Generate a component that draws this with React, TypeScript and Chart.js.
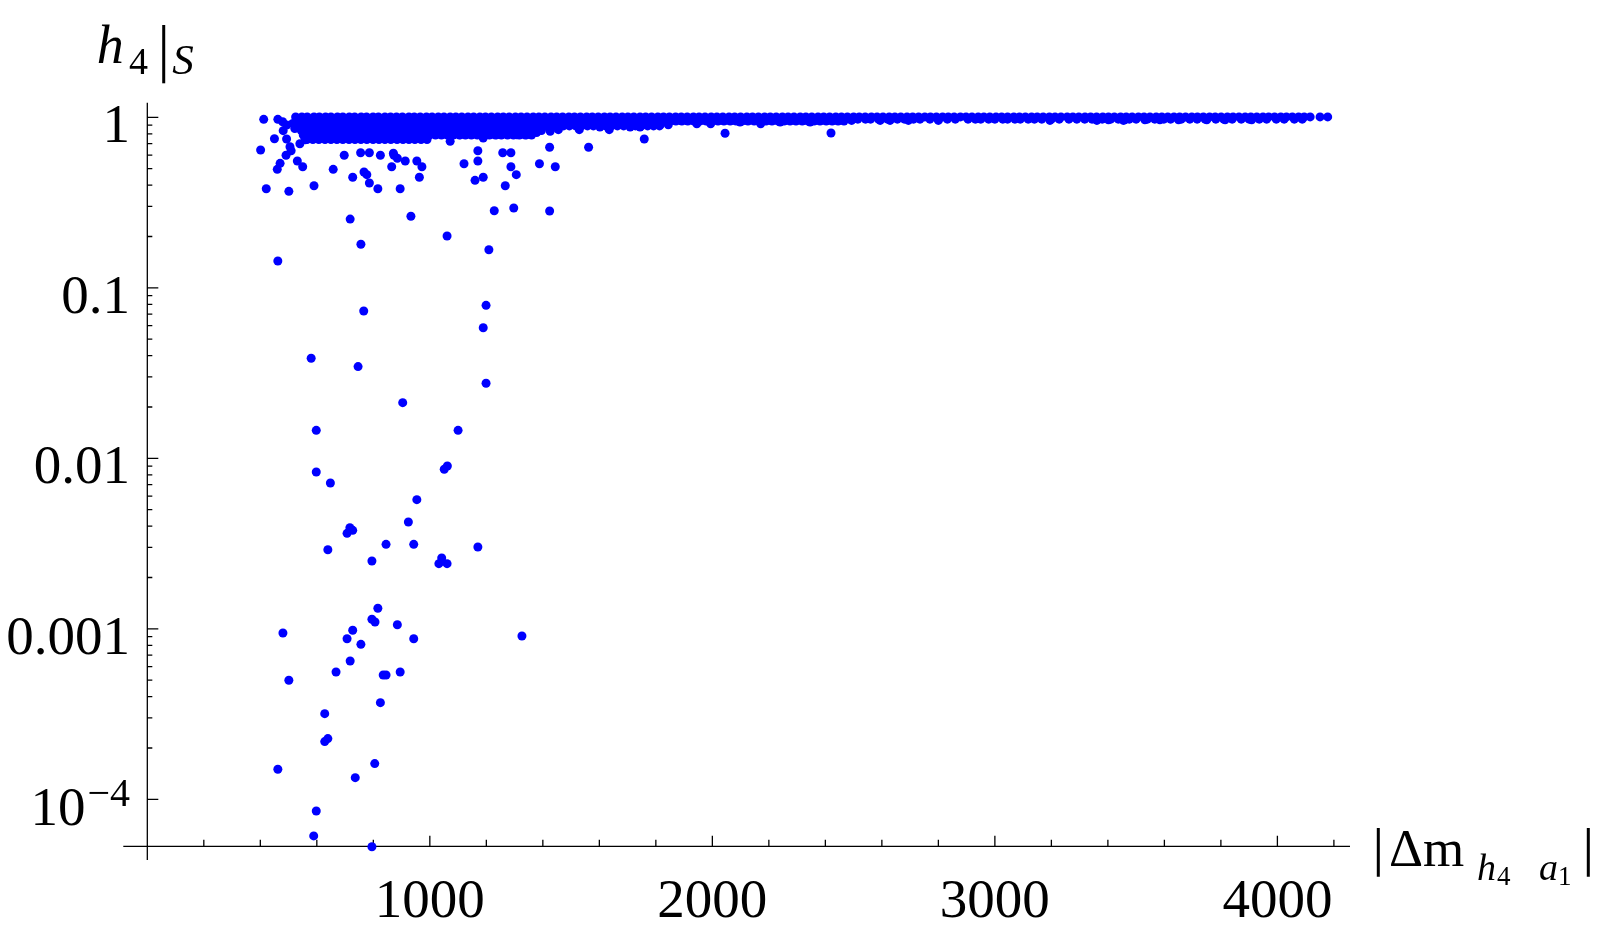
import React, { useEffect, useRef } from "react";
import { Chart, registerables } from "chart.js";

Chart.register(...registerables);

// ---- axes ----
const X_MIN = -85;
const X_MAX = 4257;
const Y_MIN = 4.406e-5;
const Y_MAX = 1.218;
const X_AXIS_AT = 5.3e-5;
const X_MAJOR_TICKS = [1000, 2000, 3000, 4000];
const X_TICK_LABELS = ["1000", "2000", "3000", "4000"];
const X_MINOR_TICKS = [200, 400, 600, 800, 1200, 1400, 1600, 1800, 2200, 2400, 2600, 2800, 3200, 3400, 3600, 3800, 4200];
const Y_MAJOR_TICKS = [1, 0.1, 0.01, 0.001, 0.0001];
const Y_TICK_LABELS = ["1", "0.1", "0.01", "0.001", "10^-4"];
const Y_MINOR_MANTISSA = [2, 3, 4, 5, 6, 7, 8, 9];
const Y_MINOR_DECADES = [1e-4, 1e-3, 1e-2, 1e-1];

// ---- scattered points ----
const upperX = [401, 412, 462, 450, 479, 493, 481, 493, 505, 491, 509, 470, 460, 531, 550, 421, 501, 590, 658, 697, 755, 786, 825, 727, 767, 777, 786, 816, 865, 873, 885, 913, 954, 972, 963, 895, 718, 933, 756, 462, 1061, 1121, 1170, 1170, 1160, 1189, 1258, 1287, 1287, 1306, 1267, 1228, 1297, 1209, 1388, 1444, 1424, 1562, 1759, 2045, 1424, 2420, 1072, 871, 515, 522, 540];
const upperY = [0.643, 0.973, 0.973, 0.748, 0.942, 0.901, 0.835, 0.746, 0.672, 0.599, 0.637, 0.537, 0.495, 0.554, 0.513, 0.381, 0.368, 0.397, 0.495, 0.599, 0.62, 0.62, 0.599, 0.445, 0.478, 0.461, 0.412, 0.381, 0.513, 0.599, 0.575, 0.554, 0.554, 0.513, 0.445, 0.381, 0.253, 0.263, 0.18, 0.1437, 0.2012, 0.534, 0.554, 0.637, 0.427, 0.445, 0.62, 0.62, 0.513, 0.461, 0.397, 0.2833, 0.294, 0.1673, 0.534, 0.513, 0.667, 0.667, 0.746, 0.806, 0.282, 0.809, 0.723, 0.615, 0.92, 0.86, 0.70];
const midX = [766, 1199, 1189, 580, 746, 1199, 904, 598, 1100, 1062, 1051, 598, 648, 954, 924, 717, 727, 707, 639, 845, 943, 1170, 795, 1042, 1032, 1061];
const midY = [0.0731, 0.0789, 0.0583, 0.0386, 0.0345, 0.02754, 0.0212, 0.01459, 0.01459, 0.00902, 0.00862, 0.00831, 0.00716, 0.00572, 0.00423, 0.00392, 0.00378, 0.00363, 0.00291, 0.00313, 0.00313, 0.00302, 0.0025, 0.0026, 0.00241, 0.00241];
const lowX = [816, 795, 806, 885, 727, 480, 707, 943, 756, 1326, 718, 668, 501, 835, 845, 895, 825, 628, 628, 639, 462, 805, 736, 598, 589, 795];
const lowY = [0.001319, 0.001137, 0.001096, 0.001057, 0.00098, 0.000945, 0.000875, 0.000875, 0.000811, 0.000908, 0.000647, 0.000558, 0.000499, 0.000536, 0.000536, 0.000558, 0.000369, 0.000318, 0.000218, 0.000227, 0.00015, 0.000162, 0.000134, 0.0000854, 0.000061, 0.0000527];

const bumpX = [559, 1107, 1189, 1237, 1308, 1343, 1378, 1426, 1455, 1529, 1602, 1635, 1709, 1744, 1815, 1844, 1945, 1994, 2098, 2171, 2240, 2346, 2393, 2493, 2594, 2629, 2694, 2800, 3195, 3361, 3455, 3402, 3460, 3531, 3584, 3650, 3750, 3815, 3909];
const bumpY = [0.739, 0.79, 0.756, 0.79, 0.79, 0.79, 0.815, 0.827, 0.846, 0.846, 0.877, 0.846, 0.877, 0.877, 0.905, 0.905, 0.917, 0.917, 0.939, 0.917, 0.939, 0.939, 0.968, 0.959, 0.959, 0.959, 0.959, 0.959, 0.959, 0.959, 0.959, 0.968, 0.968, 0.968, 0.968, 0.968, 0.968, 0.968, 0.968];

const rowAY = 1.005;
const rowAX = [525, 547, 566, 590, 609, 631, 650, 673, 692, 715, 734, 757, 776, 799, 818, 841, 861, 882, 903, 926, 945, 966, 988, 1008, 1030, 1050, 1072, 1092, 1113, 1135, 1155, 1177, 1197, 1218, 1240, 1260, 1281, 1303, 1323, 1344, 1366, 1386, 1407, 1429, 1449, 1470, 1492, 1512, 1533, 1555, 1575, 1596, 1618, 1638, 1659, 1681, 1701, 1722, 1744, 1764, 1785, 1807, 1827, 1848, 1870, 1890, 1911, 1933, 1953, 1974, 1996, 2016, 2037, 2059, 2079, 2100, 2122, 2142, 2163, 2185, 2205, 2226, 2248, 2268, 2289, 2311, 2331, 2352, 2374, 2394, 2415, 2437, 2457, 2478, 2500, 2520, 2541, 2563, 2583, 2604, 2626, 2646, 2667, 2689, 2709, 2730, 2752, 2772, 2793, 2815, 2835, 2856, 2878, 2898, 2919, 2941, 2961, 2982, 3004, 3024, 3045, 3067, 3087, 3108, 3130, 3150, 3171, 3193, 3213, 3234, 3256, 3276, 3297, 3319, 3339, 3360, 3382, 3402, 3423, 3445, 3465, 3486, 3508, 3528, 3549, 3571, 3591, 3612, 3634, 3654, 3675, 3697, 3717, 3738, 3760, 3780, 3801, 3823, 3843, 3864, 3886, 3906, 3927, 3949, 3969, 3990, 4012, 4032, 4053, 4075, 4095, 4116, 4151, 4178];

const rowBY = 0.95;
const rowBX = [532, 553, 575, 596, 617, 638, 660, 681, 702, 723, 745, 766, 787, 808, 830, 851, 872, 893, 915, 936, 957, 978, 1000, 1021, 1042, 1063, 1085, 1106, 1127, 1148, 1170, 1191, 1212, 1233, 1255, 1276, 1297, 1318, 1340, 1361, 1382, 1403, 1425, 1446, 1467, 1488, 1510, 1531, 1552, 1573, 1595, 1616, 1637, 1658, 1680, 1701, 1722, 1743, 1765, 1786, 1807, 1828, 1850, 1871, 1892, 1913, 1935, 1956, 1978, 1999, 2020, 2041, 2063, 2084, 2105, 2126, 2148, 2169, 2190, 2211, 2233, 2254, 2275, 2296, 2318, 2339, 2360, 2381, 2403, 2424, 2445, 2466];

const rowB2Y = 0.975;
const rowB2X = [2488, 2515, 2542, 2560, 2588, 2620, 2655, 2680, 2712, 2735, 2770, 2800, 2832, 2860, 2905, 2931, 2950, 2978, 3000, 3028, 3045, 3071, 3090, 3118, 3140, 3166, 3200, 3228, 3262, 3290, 3318, 3344, 3380, 3410, 3437, 3476, 3500, 3540, 3566, 3598, 3622, 3660, 3690, 3716, 3744, 3782, 3810, 3840, 3872, 3900, 3936, 3962, 3996, 4024, 4060, 4088];

const rowCY = 0.89;
const rowCX = [538, 559, 581, 602, 623, 644, 666, 687, 708, 729, 751, 772, 793, 814, 836, 857, 878, 899, 921, 942, 963, 984, 1006, 1027, 1048, 1069, 1091, 1112, 1133, 1154, 1176, 1197, 1218, 1239, 1261, 1282, 1303, 1324, 1346, 1367, 1388, 1409, 1431, 1452, 1473, 1494, 1516, 1537, 1558, 1579, 1601, 1622, 1643, 1664, 1686, 1707, 1728, 1749, 1771, 1792, 1813];

const rowDY = 0.837;
const rowDX = [545, 566, 588, 609, 630, 651, 673, 694, 715, 736, 758, 779, 800, 821, 843, 864, 885, 906, 928, 949, 970, 991, 1013, 1034, 1055, 1076, 1098, 1119, 1140, 1161, 1183, 1204, 1225, 1246, 1268, 1289, 1310, 1331, 1353, 1374, 1395];

const rowEY = 0.787;
const rowEX = [552, 573, 595, 616, 637, 658, 680, 701, 722, 743, 765, 786, 807, 828, 850, 871, 892, 913, 935, 956, 977, 998, 1020, 1041, 1062, 1083, 1105, 1126, 1147, 1168, 1190, 1211, 1232, 1253, 1275, 1296, 1317, 1338, 1360];

const rowFY = 0.741;
const rowFX = [565, 586, 607, 629, 650, 671, 692, 714, 735, 756, 777, 799, 820, 841, 862, 884, 905, 926, 947, 969, 990];

const BLUE = "#0000ff";
const FONT = '"Liberation Serif", "Times New Roman", serif';

function pairs(xs: number[], ys: number[]) {
  return xs.map((x, i) => ({ x, y: ys[i] }));
}
function row(xs: number[], y: number) {
  return xs.map((x) => ({ x, y }));
}

const axesPlugin = {
  id: "mmaAxes",
  beforeDatasetsDraw(chart: any) {
    const { ctx, chartArea } = chart;
    const xs = chart.scales.x;
    const ys = chart.scales.y;
    const x0 = xs.getPixelForValue(0);
    const yAx = ys.getPixelForValue(X_AXIS_AT);
    ctx.save();
    ctx.strokeStyle = "#000";
    ctx.lineWidth = 1.3;
    ctx.beginPath();
    ctx.moveTo(x0, chartArea.top);
    ctx.lineTo(x0, chartArea.bottom);
    ctx.moveTo(chartArea.left, yAx);
    ctx.lineTo(chartArea.right, yAx);
    X_MINOR_TICKS.forEach((v) => {
      const p = xs.getPixelForValue(v);
      ctx.moveTo(p, yAx);
      ctx.lineTo(p, yAx - 6.5);
    });
    X_MAJOR_TICKS.forEach((v) => {
      const p = xs.getPixelForValue(v);
      ctx.moveTo(p, yAx);
      ctx.lineTo(p, yAx - 10.5);
    });
    Y_MAJOR_TICKS.forEach((v) => {
      const p = ys.getPixelForValue(v);
      ctx.moveTo(x0, p);
      ctx.lineTo(x0 + 11, p);
    });
    Y_MINOR_DECADES.forEach((d) => {
      Y_MINOR_MANTISSA.forEach((m) => {
        const p = ys.getPixelForValue(m * d);
        ctx.moveTo(x0, p);
        ctx.lineTo(x0 + 5, p);
      });
    });
    ctx.stroke();

    // tick labels
    ctx.fillStyle = "#000";
    ctx.textBaseline = "alphabetic";
    ctx.font = `55px ${FONT}`;
    ctx.textAlign = "center";
    X_MAJOR_TICKS.forEach((v, i) => {
      ctx.fillText(X_TICK_LABELS[i], xs.getPixelForValue(v), yAx + 70.4);
    });
    ctx.textAlign = "right";
    const labelRight = x0 - 17.3;
    Y_MAJOR_TICKS.forEach((v, i) => {
      const p = ys.getPixelForValue(v);
      const lab = Y_TICK_LABELS[i];
      if (lab.indexOf("^") >= 0) {
        const [base, exp] = lab.split("^");
        const expText = exp.replace("-", "\u2212");
        ctx.font = `40px ${FONT}`;
        ctx.fillText(expText, labelRight, p + 7);
        const w = ctx.measureText(expText).width;
        ctx.font = `55px ${FONT}`;
        ctx.fillText(base, labelRight - w - 2, p + 25.5);
      } else {
        ctx.font = `55px ${FONT}`;
        ctx.fillText(lab, labelRight, p + 25);
      }
    });

    // y axis title: h_4 |_S
    ctx.textAlign = "left";
    const top = chartArea.top;
    ctx.font = `italic 54px ${FONT}`;
    ctx.fillText("h", x0 - 50.6, top - 39.4);
    ctx.font = `38px ${FONT}`;
    ctx.fillText("4", x0 - 18.3, top - 28.7);
    ctx.font = `italic 43px ${FONT}`;
    ctx.fillText("S", x0 + 25, top - 28.7);
    ctx.lineWidth = 3;
    ctx.beginPath();
    ctx.moveTo(x0 + 16.4, top - 77.7);
    ctx.lineTo(x0 + 16.4, top - 19.4);
    ctx.stroke();

    // x axis title: |Δm_{h4 a1}|
    const r = chartArea.right;
    const base = yAx + 19.7;
    ctx.font = `53px ${FONT}`;
    ctx.fillText("\u0394m", r + 39, base);
    ctx.font = `italic 38px ${FONT}`;
    ctx.fillText("h", r + 127, base + 14);
    ctx.fillText("a", r + 189, base + 14);
    ctx.font = `27px ${FONT}`;
    ctx.fillText("4", r + 147, base + 19);
    ctx.fillText("1", r + 208, base + 19);
    ctx.beginPath();
    ctx.moveTo(r + 28.3, yAx - 18.3);
    ctx.lineTo(r + 28.3, yAx + 30.4);
    ctx.moveTo(r + 238.3, yAx - 18.3);
    ctx.lineTo(r + 238.3, yAx + 30.4);
    ctx.stroke();
    ctx.restore();
  },
};

export default function App() {
  const ref = useRef<HTMLCanvasElement>(null);
  useEffect(() => {
    const ds = (data: { x: number; y: number }[]) => ({
      data,
      pointRadius: 4.5,
      pointHoverRadius: 4.5,
      pointBackgroundColor: BLUE,
      backgroundColor: BLUE,
      borderWidth: 0,
      pointBorderWidth: 0,
      showLine: false,
      clip: false as any,
    });
    const chart = new Chart(ref.current as HTMLCanvasElement, {
      type: "scatter",
      data: {
        datasets: [
          ds(row(rowFX, rowFY)),
          ds(row(rowEX, rowEY)),
          ds(row(rowDX, rowDY)),
          ds(row(rowCX, rowCY)),
          ds(row(rowBX, rowBY)),
          ds(row(rowB2X, rowB2Y)),
          ds(row(rowAX, rowAY)),
          ds(pairs(bumpX, bumpY)),
          ds(pairs(upperX, upperY)),
          ds(pairs(midX, midY)),
          ds(pairs(lowX, lowY)),
        ] as any,
      },
      options: {
        responsive: false,
        animation: false,
        events: [],
        layout: { padding: { left: 123.3, right: 250, top: 102.7, bottom: 77 } },
        scales: {
          x: { type: "linear", min: X_MIN, max: X_MAX, display: false, bounds: "data" } as any,
          y: { type: "logarithmic", min: Y_MIN, max: Y_MAX, display: false, bounds: "data" } as any,
        },
        plugins: { legend: { display: false }, tooltip: { enabled: false } },
      },
      plugins: [axesPlugin],
    });
    return () => chart.destroy();
  }, []);
  return (
    <div style={{ position: "fixed", left: 0, top: 0, width: 1600, height: 937, background: "#fff" }}>
      <canvas ref={ref} width={1600} height={937} style={{ width: 1600, height: 937, display: "block" }} />
    </div>
  );
}
